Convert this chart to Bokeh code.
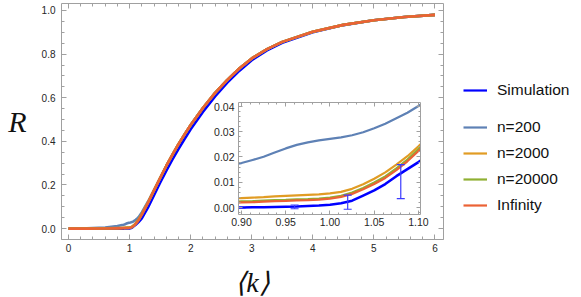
from bokeh.plotting import figure
from bokeh.models import (Range1d, LinearAxis, Legend, LegendItem, NumeralTickFormatter,
                          SingleIntervalTicker, ColumnDataSource, Whisker, TeeHead, Label)
from bokeh.layouts import column, row
from bokeh.embed import file_html
from bokeh.resources import INLINE

# ---------------- data ----------------
k = [0.0, 0.3, 0.6, 0.8,
     0.9, 0.9125, 0.925, 0.9375, 0.95, 0.9625, 0.975, 0.9875, 1.0,
     1.0125, 1.025, 1.0375, 1.05, 1.0625, 1.075, 1.0875, 1.1,
     1.125, 1.15, 1.2, 1.3, 1.4, 1.5, 1.6, 1.7, 1.8, 1.9, 2.0, 2.2, 2.4, 2.6, 2.8, 3.0,
     3.25, 3.5, 4.0, 4.5, 5.0, 5.5, 6.0]

r_infinity = [0.0, 0.0, 0.0005, 0.0012,
              0.0020, 0.0021, 0.0023, 0.0025, 0.0026, 0.0028, 0.0029, 0.0031, 0.0035,
              0.0042, 0.0054, 0.0072, 0.0093, 0.0117, 0.0148, 0.0183, 0.0224,
              0.031, 0.040, 0.064, 0.118, 0.175, 0.232, 0.287, 0.338, 0.387, 0.432, 0.475,
              0.553, 0.622, 0.682, 0.735, 0.780, 0.823, 0.856, 0.902, 0.934, 0.955, 0.970, 0.980]

r_n20000 = [0.0, 0.0, 0.0007, 0.0015,
            0.0024, 0.0025, 0.0027, 0.0029, 0.0030, 0.0032, 0.0033, 0.0035, 0.0039,
            0.0046, 0.0059, 0.0077, 0.0099, 0.0123, 0.0155, 0.0190, 0.0231,
            0.032, 0.041, 0.065, 0.118, 0.175, 0.232, 0.287, 0.338, 0.387, 0.432, 0.475,
            0.553, 0.622, 0.682, 0.735, 0.780, 0.823, 0.856, 0.902, 0.934, 0.955, 0.970, 0.980]

r_n2000 = [0.0, 0.0003, 0.0015, 0.0028,
           0.0037, 0.0039, 0.0041, 0.0044, 0.0046, 0.0048, 0.0050, 0.0052, 0.0056,
           0.0062, 0.0074, 0.0092, 0.0114, 0.0139, 0.0170, 0.0203, 0.0242,
           0.033, 0.043, 0.066, 0.119, 0.175, 0.232, 0.287, 0.338, 0.387, 0.432, 0.475,
           0.553, 0.622, 0.682, 0.735, 0.780, 0.823, 0.856, 0.902, 0.934, 0.955, 0.970, 0.980]

r_n200 = [0.0, 0.0008, 0.005, 0.0115,
          0.0176, 0.0188, 0.0201, 0.0218, 0.0234, 0.0248, 0.0258, 0.0266, 0.0272,
          0.0278, 0.0286, 0.0298, 0.0314, 0.0332, 0.0353, 0.0375, 0.0402,
          0.046, 0.053, 0.074, 0.123, 0.177, 0.232, 0.287, 0.338, 0.387, 0.432, 0.475,
          0.553, 0.622, 0.682, 0.735, 0.780, 0.823, 0.856, 0.902, 0.934, 0.955, 0.970, 0.980]

r_sim = [0.0, 0.0, 0.0, 0.0,
         0.0000, 0.0001, 0.0001, 0.0002, 0.0003, 0.0004, 0.0006, 0.0008, 0.0011,
         0.0017, 0.0027, 0.0047, 0.0068, 0.0093, 0.0124, 0.0152, 0.0180,
         0.024, 0.031, 0.047, 0.096, 0.153, 0.210, 0.265, 0.316, 0.365, 0.411, 0.455,
         0.535, 0.606, 0.669, 0.724, 0.772, 0.817, 0.852, 0.900, 0.933, 0.955, 0.970, 0.980]

err_k = [0.90, 0.96, 1.02, 1.08]
err_lo = [-0.0004, -0.0005, -0.0007, 0.0035]
err_hi = [0.0004, 0.0010, 0.0049, 0.0170]

series_names = ["Simulation", "n=200", "n=2000", "n=20000", "Infinity"]
series_colors = ["#0000ff", "#5e81b5", "#e19c24", "#8fb032", "#eb6235"]
x_title = "\u27e8k\u27e9"
y_title = "R"

# ---------------- styling ----------------
FONT = "Liberation Sans"
SERIF = "Liberation Serif"
FRAME = "#a0a0a0"
LABEL = "#262626"


def style_axis(ax, labels=True, size="10px", standoff=5, tin=5, tmin=3):
    ax.axis_line_color = FRAME
    ax.major_tick_line_color = FRAME
    ax.minor_tick_line_color = FRAME
    ax.major_tick_in = tin
    ax.major_tick_out = 0
    ax.minor_tick_in = tmin
    ax.minor_tick_out = 0
    ax.major_label_text_font = FONT
    if labels:
        ax.major_label_text_color = LABEL
        ax.major_label_text_font_size = size
        ax.major_label_standoff = standoff
    else:
        ax.major_label_text_color = None
        ax.major_label_text_font_size = "1px"
        ax.major_label_standoff = 0
        ax.axis_label = None


# ---------------- main figure ----------------
main = figure(width=448, height=297, x_range=Range1d(-0.115, 6.14), y_range=Range1d(-0.050, 1.032),
              output_backend="svg", toolbar_location=None, tools="",
              min_border_left=61, min_border_right=5, min_border_top=3, min_border_bottom=58,
              x_axis_location=None, y_axis_location=None)
main.outline_line_color = None
main.xgrid.visible = False
main.ygrid.visible = False

xb = LinearAxis(ticker=SingleIntervalTicker(interval=1, num_minor_ticks=5))
style_axis(xb, size="10px", standoff=4)
main.add_layout(xb, "below")

yl = LinearAxis(ticker=SingleIntervalTicker(interval=0.2, num_minor_ticks=4),
                formatter=NumeralTickFormatter(format="0.0"))
style_axis(yl, size="10px", standoff=6)
yl.axis_label = y_title
yl.axis_label_orientation = "horizontal"
yl.axis_label_text_font = SERIF
yl.axis_label_text_font_style = "italic"
yl.axis_label_text_font_size = "30px"
yl.axis_label_text_color = "#111111"
yl.axis_label_standoff = 12
main.add_layout(yl, "left")

xt = LinearAxis(ticker=SingleIntervalTicker(interval=1, num_minor_ticks=5))
style_axis(xt, labels=False)
main.add_layout(xt, "above")
yr = LinearAxis(ticker=SingleIntervalTicker(interval=0.2, num_minor_ticks=4))
style_axis(yr, labels=False)
main.add_layout(yr, "right")

src = ColumnDataSource(dict(k=k, sim=r_sim, n200=r_n200, n2000=r_n2000, n20000=r_n20000, inf=r_infinity))
cols = ["sim", "n200", "n2000", "n20000", "inf"]

for c, col in zip(series_colors, cols):
    main.line("k", col, source=src, line_color=c, line_width=2.6, line_join="round")

# ---------------- legend panel (own small figure to the right) ----------------
# its ranges lie outside the data, so only the legend samples of these lines show
legfig = figure(width=128, height=297, x_range=Range1d(100, 101), y_range=Range1d(100, 101),
                output_backend="svg", toolbar_location=None, tools="",
                min_border_left=0, min_border_right=0, min_border_top=0, min_border_bottom=0,
                x_axis_location=None, y_axis_location=None)
legfig.outline_line_color = None
legfig.xgrid.visible = False
legfig.ygrid.visible = False
leg_renderers = [legfig.line("k", col, source=src, line_color=c, line_width=2.2)
                 for c, col in zip(series_colors, cols)]

leg_kw = dict(glyph_width=24, glyph_height=20, label_height=20, label_standoff=10,
              padding=0, margin=0, border_line_color=None, background_fill_alpha=0,
              label_text_font=FONT, label_text_font_size="15.5px", label_text_color="#111111")
leg1 = Legend(items=[LegendItem(label=series_names[0], renderers=[leg_renderers[0]])],
              location=(15, 139), **leg_kw)
leg2 = Legend(items=[LegendItem(label=n, renderers=[r]) for n, r in zip(series_names[1:], leg_renderers[1:])],
              location=(15, 24), spacing=6, **leg_kw)
legfig.add_layout(leg1)
legfig.add_layout(leg2)

# ---------------- inset ----------------
inset = figure(width=228, height=132, x_range=Range1d(0.8966, 1.1023), y_range=Range1d(-0.00277, 0.04158),
               output_backend="svg", toolbar_location=None, tools="",
               min_border_left=32, min_border_right=14, min_border_top=2, min_border_bottom=18,
               x_axis_location=None, y_axis_location=None,
               background_fill_color="white", border_fill_alpha=0,
               margin=(-197, 0, 0, 206))
inset.outline_line_color = None
inset.xgrid.visible = False
inset.ygrid.visible = False

ixb = LinearAxis(ticker=SingleIntervalTicker(interval=0.05, num_minor_ticks=5),
                 formatter=NumeralTickFormatter(format="0.00"))
style_axis(ixb, size="10.5px", standoff=3, tin=4, tmin=2)
inset.add_layout(ixb, "below")
iyl = LinearAxis(ticker=SingleIntervalTicker(interval=0.01, num_minor_ticks=5),
                 formatter=NumeralTickFormatter(format="0.00"))
style_axis(iyl, size="10.5px", standoff=4, tin=4, tmin=2)
inset.add_layout(iyl, "left")
ixt = LinearAxis(ticker=SingleIntervalTicker(interval=0.05, num_minor_ticks=5))
style_axis(ixt, labels=False, tin=4, tmin=2)
inset.add_layout(ixt, "above")
iyr = LinearAxis(ticker=SingleIntervalTicker(interval=0.01, num_minor_ticks=5))
style_axis(iyr, labels=False, tin=4, tmin=2)
inset.add_layout(iyr, "right")

for c, col in zip(series_colors, cols):
    inset.line("k", col, source=src, line_color=c, line_width=2.2 if col != "sim" else 2.6,
               line_join="round")

err_src = ColumnDataSource(dict(k=err_k, lo=err_lo, hi=err_hi))
wh = Whisker(source=err_src, base="k", lower="lo", upper="hi", line_color="#3a3aff", line_width=1.2,
             upper_head=TeeHead(size=8, line_color="#3a3aff", line_width=1.2),
             lower_head=TeeHead(size=8, line_color="#3a3aff", line_width=1.2),
             level="glyph")
inset.add_layout(wh)

# ---------------- x-axis title (small strip under the main frame) ----------------
# borders equal to the inset's, since the column lines up the frames of its plots
klab = figure(width=126, height=30, x_range=Range1d(0, 1), y_range=Range1d(0, 1),
              output_backend="svg", toolbar_location=None, tools="",
              min_border_left=32, min_border_right=14, min_border_top=0, min_border_bottom=0,
              x_axis_location=None, y_axis_location=None,
              border_fill_alpha=0, background_fill_alpha=0,
              margin=(35, 0, 0, 180))
klab.outline_line_color = None
klab.xgrid.visible = False
klab.ygrid.visible = False
klab.add_layout(Label(x=40, y=15, x_units="screen", y_units="screen", text=x_title,
                      text_align="center", text_baseline="middle", text_font=SERIF,
                      text_font_style="italic", text_font_size="28px", text_color="#111111"))

layout = column(row(main, legfig), inset, klab)

with open("out.html", "w") as f:
    f.write(file_html(layout, INLINE))
